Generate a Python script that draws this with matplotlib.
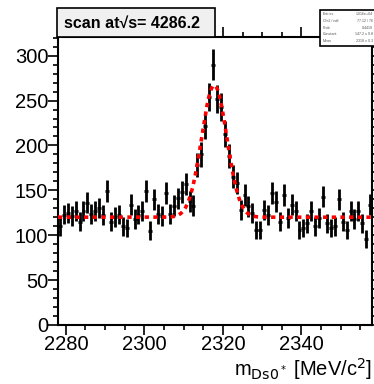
import numpy as np
import matplotlib.pyplot as plt
from matplotlib.patches import Rectangle
from matplotlib.ticker import MultipleLocator

# centros de bin (1 MeV) y cuentas
bin_lo = 2278
ancho = 1.0
cuentas = [110, 123, 125, 121, 127, 115, 127, 136, 124, 127,
           130, 122, 149, 115, 120, 123, 110, 108, 134, 118,
           123, 127, 149, 105, 140, 124, 121, 147, 124, 133,
           141, 148, 157, 138, 133, 178, 190, 222, 254, 290,
           252, 243, 213, 188, 165, 158, 128, 145, 132, 125,
           106, 106, 128, 122, 147, 137, 115, 145, 119, 134,
           127, 106, 108, 113, 127, 110, 119, 143, 113, 108,
           110, 140, 115, 106, 127, 118, 127, 113, 96, 134]

# parametros del ajuste gauss + constante
fondo = 120.0
amplitud = 147.0
media = 2317.8
sigma = 3.2

titulo = "scan at\u221as= 4286.2"
stats_nombres = ["Entries", "Chi2 / ndf", "Prob", "Constant", "Mean"]
stats_valores = ["1.016e+04", "77.12 / 76", "0.4419", "147.2 \u00b1 9.8", "2318 \u00b1 0.3"]

x = bin_lo + ancho * (np.arange(len(cuentas)) + 0.5)
y = np.array(cuentas, dtype=float)
err = np.sqrt(y)

plt.rcParams['font.family'] = ['Liberation Sans', 'DejaVu Sans']

fig = plt.figure(figsize=(3.74, 3.84), dpi=100)
ax = fig.add_axes([0.155, 0.154, 0.84, 0.75])

ax.errorbar(x, y, yerr=err, xerr=ancho / 2, fmt='none', ecolor='black',
            elinewidth=2.0, capsize=0, zorder=3)

xf = np.linspace(bin_lo, bin_lo + 80, 600)
yf = fondo + amplitud * np.exp(-0.5 * ((xf - media) / sigma) ** 2)
ax.plot(xf, yf, color='red', lw=2.6, ls=(0, (1.2, 1.2)), zorder=4)

ax.set_xlim(2278, 2358)
ax.set_ylim(0, 321)
ax.xaxis.set_major_locator(MultipleLocator(20))
ax.xaxis.set_minor_locator(MultipleLocator(5))
ax.yaxis.set_major_locator(MultipleLocator(50))
ax.yaxis.set_minor_locator(MultipleLocator(10))
ax.tick_params(which='both', direction='out', top=True, right=True,
               labeltop=False, labelright=False, width=1.2, labelsize=14.5,
               pad=0)
ax.tick_params(which='major', length=7)
ax.tick_params(which='minor', length=3.5)
for s in ax.spines.values():
    s.set_linewidth(1.5)

ax.text(1.0, -0.155, r"m$_{\mathrm{Ds0^*}}$ [MeV/c$^2$]", transform=ax.transAxes,
        ha='right', va='center', fontsize=14.5)

# caja del titulo
fig.patches.append(Rectangle((57 / 374, 1 - 37 / 384), 158 / 374, 29 / 384,
                             transform=fig.transFigure, facecolor='#f0f0f0',
                             edgecolor='black', lw=1.2, zorder=5))
fig.text(132 / 374, 1 - 23 / 384, titulo, ha='center', va='center',
         fontsize=11.5, fontweight='bold', zorder=6)

# caja de estadisticas
fig.patches.append(Rectangle((320 / 374, 1 - 46 / 384), 56 / 374, 36 / 384,
                             transform=fig.transFigure, facecolor='white',
                             edgecolor='black', lw=1.2, zorder=5))
for i, (n, v) in enumerate(zip(stats_nombres, stats_valores)):
    yy = 1 - (14 + i * 6.8) / 384
    fig.text(323 / 374, yy, n, fontsize=2.6, color='#555555', va='center', zorder=6)
    fig.text(373 / 374, yy, v, fontsize=2.6, color='#555555', va='center',
             ha='right', zorder=6)

fig.savefig('out.png', dpi=100)
